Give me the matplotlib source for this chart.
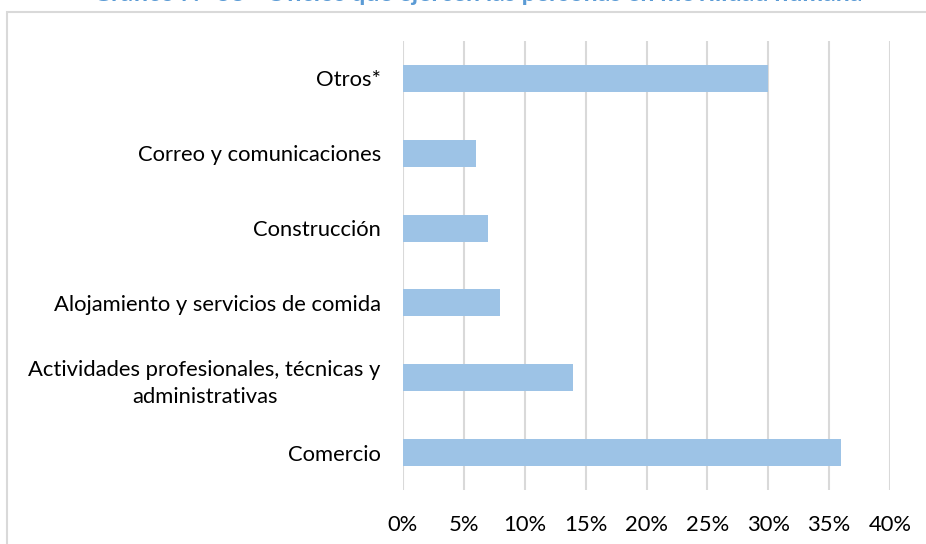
import matplotlib
matplotlib.use("Agg")
import matplotlib.pyplot as plt
from matplotlib.patches import Rectangle
from matplotlib.ticker import FuncFormatter

categories = ["Comercio",
              "Actividades profesionales, técnicas y\nadministrativas",
              "Alojamiento y servicios de comida",
              "Construcción",
              "Correo y comunicaciones",
              "Otros*"]
values = [0.36, 0.14, 0.08, 0.07, 0.06, 0.30]
xticks = [0, 0.05, 0.10, 0.15, 0.20, 0.25, 0.30, 0.35, 0.40]
title = "Gráfico N° 38 - Oficios que ejercen las personas en movilidad humana"

plt.rcParams['font.family'] = ['Lato', 'DejaVu Sans']

W, H = 926, 544
fig = plt.figure(figsize=(W/100, H/100), dpi=100)
ax = fig.add_axes([403/W, 1-490/H, (890-403)/W, (490-41)/H])

ypos = list(range(len(categories)))
ax.barh(ypos, values, height=0.36, color="#9DC3E6", zorder=3)
ax.set_ylim(-0.5, len(categories)-0.5)
ax.set_xlim(0, 0.40)
ax.set_xticks(xticks)
ax.xaxis.set_major_formatter(FuncFormatter(lambda v, p: f"{v*100:.0f}%"))
ax.set_yticks(ypos)
ax.set_yticklabels(categories, multialignment='center', linespacing=1.45)
ax.grid(axis='x', color="#D9D9D9", linewidth=1.5, zorder=0)
for s in ax.spines.values():
    s.set_visible(False)
ax.tick_params(axis='both', length=0, labelsize=15.8, colors="#000000")
ax.tick_params(axis='x', pad=18)
ax.tick_params(axis='y', pad=16)

fig.patches.append(Rectangle((7/W, -0.2), 2, 1.2 - 11.5/H, transform=fig.transFigure,
                             fill=False, edgecolor="#D9D9D9", linewidth=1.5))
fig.text(478/W, 1 - 1/H, title, ha='center', va='baseline', color="#5B9BD5",
         fontsize=17.9, fontweight='bold')

fig.savefig("out.png", dpi=100)
